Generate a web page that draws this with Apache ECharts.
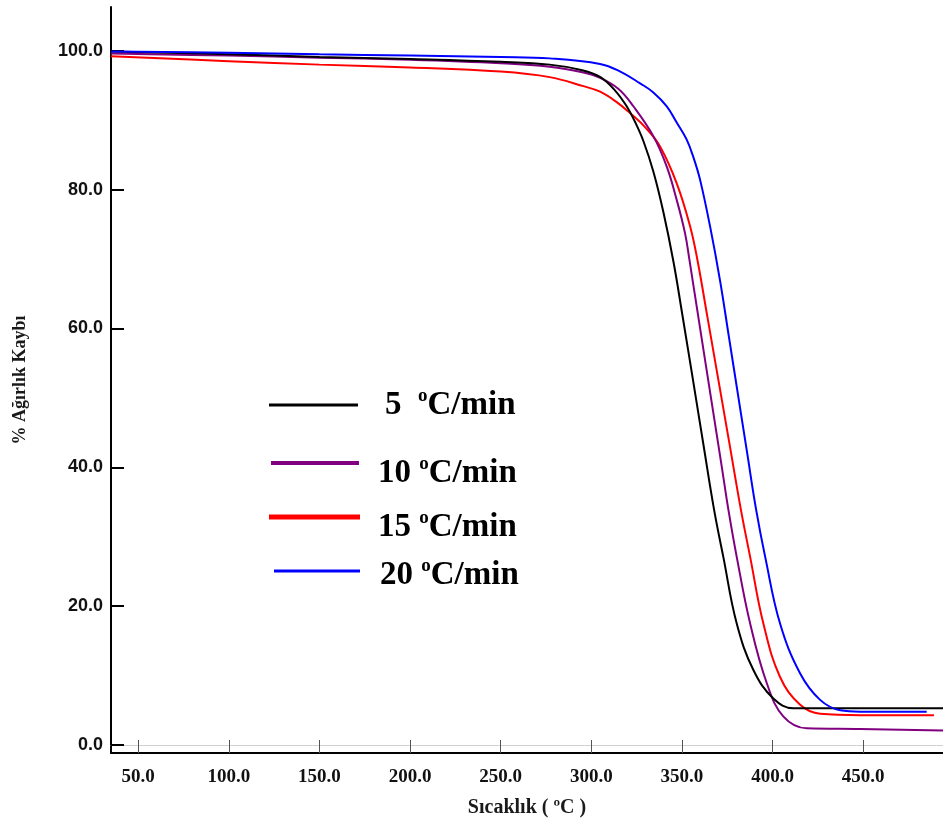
<!DOCTYPE html>
<html><head><meta charset="utf-8">
<script src="https://cdn.jsdelivr.net/npm/echarts@6/dist/echarts.min.js"></script>
<style>html,body{margin:0;padding:0;background:#fff}#c{width:943px;height:823px}</style>
</head><body><div id="c"></div>
<script>
// ---- data ----
const seriesNames = ['5 °C/min', '10 °C/min', '15 °C/min', '20 °C/min'];
const legendPrefix = ['5  ', '10 ', '15 ', '20 '];
const xTicks = [50, 100, 150, 200, 250, 300, 350, 400, 450];
const yTicks = [0, 20, 40, 60, 80, 100];

const T5 = [35, 100, 150, 200, 250, 277, 295, 305, 313, 319.5, 324, 328.7, 334.2, 339.7, 345.3, 350, 356, 362, 367.7, 372.8, 380.2, 389.4, 400.4, 411.5, 430, 460, 494];
const W5 = [99.9, 99.5, 99.1, 98.8, 98.4, 98.0, 97.2, 96.2, 94.3, 92.0, 89.8, 87.0, 82.6, 76.8, 69.6, 62.3, 52.7, 43.0, 33.9, 27.1, 17.5, 10.8, 6.7, 5.3, 5.3, 5.3, 5.3];

const T10 = [35, 100, 150, 200, 250, 277, 295, 304.8, 315, 323.2, 334.2, 341.6, 347.1, 351.7, 354.1, 360, 366, 372, 375.6, 380.2, 387.6, 396.8, 406, 418.9, 448.3, 494];
const W10 = [99.6, 99.3, 99.0, 98.7, 98.2, 97.7, 96.9, 96.1, 94.5, 92.0, 87.7, 83.3, 78.5, 73.7, 69.9, 60.0, 50.0, 40.0, 33.9, 27.1, 17.5, 8.9, 4.1, 2.4, 2.3, 2.1];

const T15 = [35, 100, 150, 200, 250, 277, 295.6, 304.8, 314, 321.4, 330, 337.9, 347.1, 354.5, 358.5, 364, 370, 376, 382.5, 387.6, 394.9, 404.1, 415.2, 426.2, 448.3, 489];
const W15 = [99.2, 98.5, 98.0, 97.6, 97.0, 96.2, 94.9, 94.1, 92.6, 91.0, 88.9, 86.2, 80.9, 74.7, 69.9, 61.7, 52.7, 43.7, 33.9, 27.1, 17.5, 9.8, 5.8, 4.5, 4.3, 4.3];

const T20 = [35, 100, 150, 200, 250, 277, 304.8, 316, 326.9, 334.2, 341.6, 347, 352.6, 356.5, 360, 365.5, 371, 376, 381, 386, 390.9, 395.9, 404.1, 415.2, 426.2, 437.3, 448.3, 485];
const W20 = [99.9, 99.7, 99.5, 99.3, 99.1, 98.9, 98.1, 97.0, 95.3, 94.0, 92.0, 89.7, 87.2, 84.5, 81.4, 74.7, 66.9, 58.6, 50.3, 42.0, 33.9, 27.1, 17.5, 10.3, 6.5, 5.0, 4.8, 4.8];

const seriesT = [T5, T10, T15, T20];
const seriesW = [W5, W10, W15, W20];
const colors = ['#000000', '#800080', '#ff0000', '#0000ff'];

// ---- chart ----
const chart = echarts.init(document.getElementById('c'));
const serif = 'Liberation Serif';
const sans = 'Liberation Sans';

const legendCfg = [
  {top: 387, left: 269, w: 89, h: 3, pad: [0, 0, 0, 22]},
  {top: 455, left: 271, w: 88, h: 4, pad: [20, 0, 0, 14]},
  {top: 509, left: 269, w: 91, h: 5, pad: [20, 0, 0, 13]},
  {top: 557, left: 274, w: 86, h: 3, pad: [8, 0, 0, 15]}
];

const legends = legendCfg.map((c, i) => ({
  data: [seriesNames[i]],
  left: c.left, top: c.top, padding: 0,
  orient: 'horizontal',
  icon: 'rect', itemWidth: c.w, itemHeight: c.h,
  selectedMode: false,
  formatter: () => `{n|${legendPrefix[i]}}{s|o}{n|C/min}`,
  textStyle: {
    padding: c.pad,
    rich: {
      n: {fontFamily: serif, fontWeight: 'bold', fontSize: 33, lineHeight: 36, color: '#000'},
      s: {fontFamily: serif, fontWeight: 'bold', fontSize: 19, lineHeight: 22, verticalAlign: 'top', color: '#000'}
    }
  }
}));

chart.setOption({
  backgroundColor: '#fff',
  animation: false,
  grid: {left: 111, right: 0, top: 7, bottom: 70, containLabel: false, outerBoundsMode: 'none'},
  legend: legends,
  xAxis: [{
    type: 'value', min: 35, max: 494,
    name: 'Sıcaklık ( ºC )', nameLocation: 'middle', nameGap: 45,
    nameTextStyle: {fontFamily: serif, fontWeight: 'bold', fontSize: 20, color: '#1a1a1a'},
    axisLine: {show: true, onZero: false, lineStyle: {color: '#000', width: 2}},
    axisTick: {show: true, inside: true, length: 13, customValues: xTicks, lineStyle: {color: '#555', width: 1}},
    axisLabel: {customValues: xTicks, margin: 15, fontFamily: serif, fontWeight: 'bold', fontSize: 19, color: '#111',
      formatter: v => v.toFixed(1)},
    splitLine: {show: false}
  }, {
    type: 'value', min: 35, max: 494, position: 'top',
    axisLine: {show: true, lineStyle: {color: '#d0d0d0', width: 1}},
    axisTick: {show: false}, axisLabel: {show: false}, splitLine: {show: false}
  }],
  yAxis: {
    type: 'value', min: -1.15, max: 106.3,
    name: '% Ağırlık Kaybı', nameLocation: 'middle', nameGap: 82, nameRotate: 90,
    nameTextStyle: {fontFamily: serif, fontWeight: 'bold', fontSize: 18, color: '#1a1a1a'},
    axisLine: {show: true, onZero: false, lineStyle: {color: '#000', width: 2}},
    axisTick: {show: true, inside: true, length: 13, customValues: yTicks, lineStyle: {color: '#000', width: 2}},
    axisLabel: {customValues: yTicks, margin: 8, fontFamily: sans, fontWeight: 'bold', fontSize: 18, color: '#111',
      formatter: v => v.toFixed(1)},
    splitLine: {show: false}
  },
  series: seriesNames.map((name, i) => ({
    name, type: 'line',
    data: seriesT[i].map((t, k) => [t, seriesW[i][k]]),
    smooth: 0.4,
    showSymbol: false, symbol: 'none',
    lineStyle: {color: colors[i], width: 2},
    itemStyle: {color: colors[i]},
    z: [4, 3, 2, 5][i]
  }))
});
</script>
</body></html>
